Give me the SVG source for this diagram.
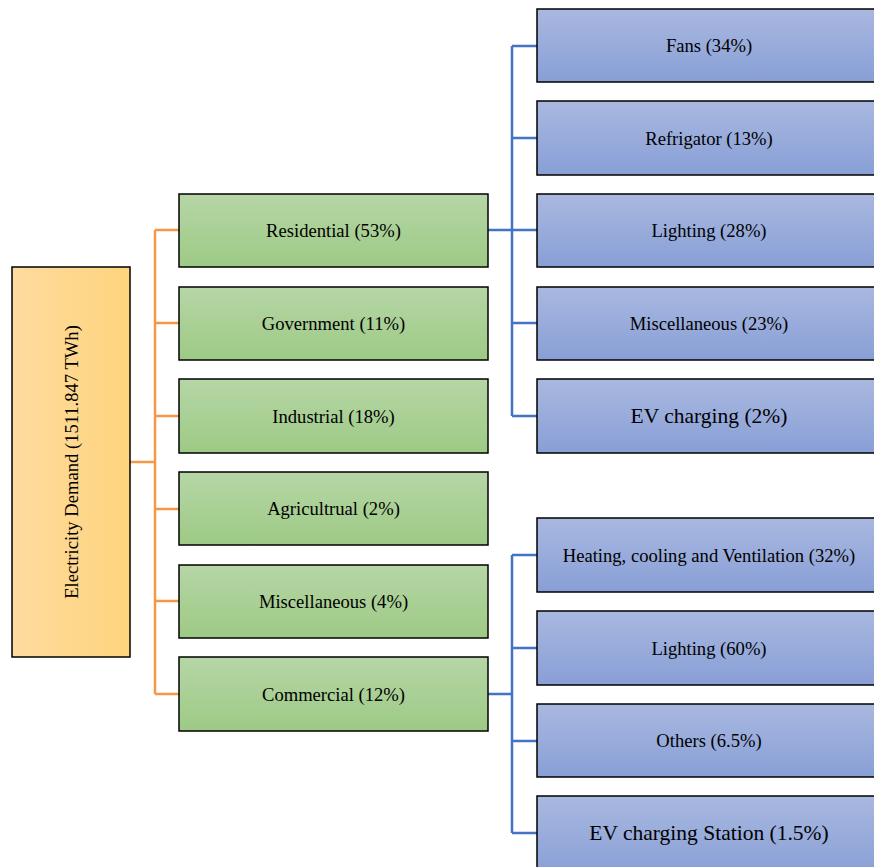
<svg xmlns="http://www.w3.org/2000/svg" width="874" height="867" viewBox="0 0 874 867">
<defs>
<linearGradient id="gO" x1="0" y1="0" x2="1" y2="0"><stop offset="0" stop-color="#fedba0"/><stop offset="1" stop-color="#ffd47c"/></linearGradient>
<linearGradient id="gG" x1="0" y1="0" x2="0" y2="1"><stop offset="0" stop-color="#b6d6a6"/><stop offset="1" stop-color="#9dca85"/></linearGradient>
<linearGradient id="gB" x1="0" y1="0" x2="0" y2="1"><stop offset="0" stop-color="#a9b8e0"/><stop offset="1" stop-color="#889fd6"/></linearGradient>
</defs>
<style>
.o{fill:url(#gO);stroke:#000;stroke-width:1.5}
.g{fill:url(#gG);stroke:#000;stroke-width:1.5}
.b{fill:url(#gB);stroke:#000;stroke-width:1.5}
text{font-family:"Liberation Serif","Times New Roman",serif;font-size:18.6px;fill:#000;text-anchor:middle;dominant-baseline:central}
.big{font-size:21.5px}
.co{fill:none;stroke:#f79646;stroke-width:2.5}
.cb{fill:none;stroke:#4472c4;stroke-width:2.5}
</style>
<g id="connectors">
<path class="co" d="M130,462H155M155,230V694M155,230H179M155,323H179M155,416H179M155,509H179M155,601H179M155,694H179"/>
<path class="cb" d="M488,230H512M512,46V416M512,46H537M512,138H537M512,230H537M512,323H537M512,416H537"/>
<path class="cb" d="M488,694H512M512,555V833M512,555H537M512,648H537M512,741H537M512,833H537"/>
</g>
<g id="root"><rect class="o" x="12" y="267" width="118" height="390"/><text transform="translate(71,462) rotate(-90)">Electricity Demand (1511.847 TWh)</text></g>
<g id="residential"><rect class="g" x="179" y="194" width="309" height="73"/><text x="333.5" y="230.5">Residential (53%)</text></g>
<g id="government"><rect class="g" x="179" y="287" width="309" height="73"/><text x="333.5" y="323.5">Government (11%)</text></g>
<g id="industrial"><rect class="g" x="179" y="379" width="309" height="74"/><text x="333.5" y="416">Industrial (18%)</text></g>
<g id="agricultural"><rect class="g" x="179" y="472" width="309" height="73"/><text x="333.5" y="508.5">Agricultrual (2%)</text></g>
<g id="miscellaneous"><rect class="g" x="179" y="565" width="309" height="73"/><text x="333.5" y="601.5">Miscellaneous (4%)</text></g>
<g id="commercial"><rect class="g" x="179" y="657" width="309" height="74"/><text x="333.5" y="694">Commercial (12%)</text></g>
<g id="fans"><rect class="b" x="537" y="9" width="345" height="73"/><text x="709" y="45.5">Fans (34%)</text></g>
<g id="refrigator"><rect class="b" x="537" y="101" width="345" height="74"/><text x="709" y="138">Refrigator (13%)</text></g>
<g id="lighting-res"><rect class="b" x="537" y="194" width="345" height="73"/><text x="709" y="230.5">Lighting (28%)</text></g>
<g id="misc-res"><rect class="b" x="537" y="287" width="345" height="73"/><text x="709" y="323.5">Miscellaneous (23%)</text></g>
<g id="ev-res"><rect class="b" x="537" y="379" width="345" height="74"/><text class="big" x="709" y="416">EV charging (2%)</text></g>
<g id="hvac"><rect class="b" x="537" y="518" width="345" height="74"/><text x="709" y="555">Heating, cooling and Ventilation (32%)</text></g>
<g id="lighting-com"><rect class="b" x="537" y="611" width="345" height="74"/><text x="709" y="648">Lighting (60%)</text></g>
<g id="others"><rect class="b" x="537" y="704" width="345" height="73"/><text x="709" y="740.5">Others (6.5%)</text></g>
<g id="ev-com"><rect class="b" x="537" y="796" width="345" height="80"/><text class="big" x="709" y="833">EV charging Station (1.5%)</text></g>
</svg>
